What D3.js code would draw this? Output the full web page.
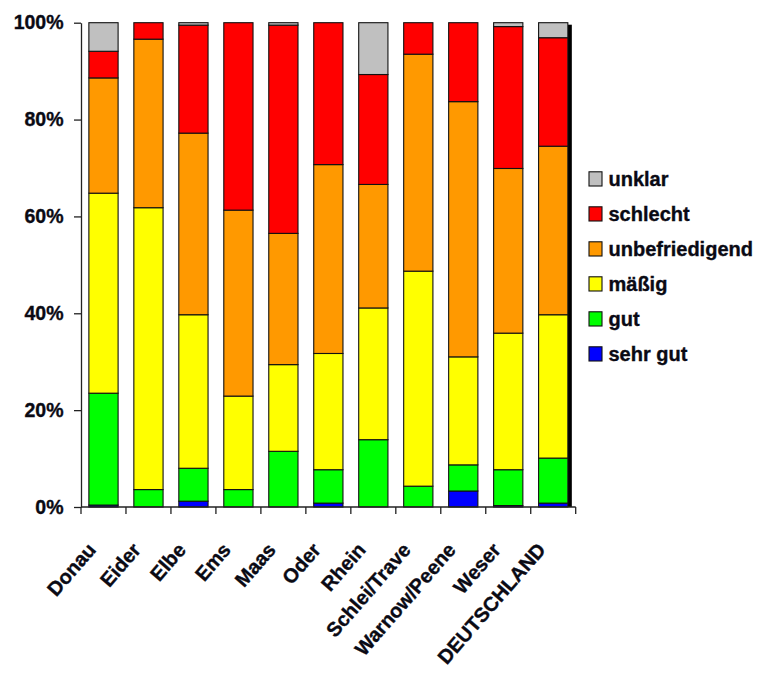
<!DOCTYPE html>
<html lang="de">
<head>
<meta charset="utf-8">
<script src="https://cdn.jsdelivr.net/npm/d3@7"></script>
<style>
  html, body { margin: 0; padding: 0; background: #fff; }
  svg { display: block; }
  text { font-family: "Liberation Sans", Arial, sans-serif; font-weight: bold;
         fill: #0a0a14; stroke: #0a0a14; stroke-width: 0.35px; }
</style>
</head>
<body>
<svg id="chart" width="760" height="681"></svg>
<script>
// Flussgebietseinheiten und Anteile der Bewertungsklassen (in %)
const categories = ["Donau", "Eider", "Elbe", "Ems", "Maas", "Oder", "Rhein",
  "Schlei/Trave", "Warnow/Peene", "Weser", "DEUTSCHLAND"];

const sehrGut        = [0.4, 0.0, 1.2, 0.0, 0.0, 0.8, 0.0, 0.0, 3.3, 0.3, 0.8];
const gut            = [23.1, 3.6, 6.8, 3.6, 11.5, 6.9, 13.9, 4.3, 5.4, 7.4, 9.3];
const maessig        = [41.3, 58.2, 31.7, 19.3, 17.9, 24.0, 27.2, 44.4, 22.3, 28.2, 29.6];
const unbefriedigend = [23.8, 34.8, 37.5, 38.4, 27.1, 39.0, 25.5, 44.8, 52.7, 34.0, 34.8];
const schlecht       = [5.5, 3.4, 22.3, 38.7, 43.0, 29.3, 22.7, 6.5, 16.3, 29.3, 22.4];
const unklar         = [5.9, 0.0, 0.5, 0.0, 0.5, 0.0, 10.7, 0.0, 0.0, 0.8, 3.1];

const seriesNames = ["sehr gut", "gut", "mäßig", "unbefriedigend", "schlecht", "unklar"];
const seriesValues = [sehrGut, gut, maessig, unbefriedigend, schlecht, unklar];
const seriesColors = ["#0000ff", "#00ff00", "#ffff00", "#ff9900", "#ff0000", "#c0c0c0"];

const yTicks = [0, 20, 40, 60, 80, 100];

// Tabelle für d3.stack
const rows = categories.map((c, i) => {
  const r = { name: c };
  seriesNames.forEach((s, k) => { r[s] = seriesValues[k][i]; });
  return r;
});

const svg = d3.select("#chart");
const plot = { left: 81, right: 575.7, top: 22.7, bottom: 507 };

const x = d3.scaleBand()
  .domain(categories)
  .range([plot.left, plot.right])
  .paddingInner(0.35)
  .paddingOuter(0.175);

const y = d3.scaleLinear().domain([0, 100]).range([plot.bottom, plot.top]);

const stacked = d3.stack().keys(seriesNames)(rows);

// Schatten hinter dem letzten Balken
const last = categories[categories.length - 1];
svg.append("rect")
  .attr("x", x(last) + x.bandwidth())
  .attr("y", y(100) + 2)
  .attr("width", 4)
  .attr("height", y(0) - y(100) - 2)
  .attr("fill", "#000");

// Gestapelte Balken
svg.append("g")
  .selectAll("g")
  .data(stacked)
  .join("g")
  .attr("fill", (d, k) => seriesColors[k])
  .selectAll("rect")
  .data(d => d.filter(p => p[1] - p[0] > 0))
  .join("rect")
  .attr("x", p => x(p.data.name))
  .attr("y", p => y(p[1]))
  .attr("width", x.bandwidth())
  .attr("height", p => y(p[0]) - y(p[1]))
  .attr("stroke", "#111")
  .attr("stroke-width", 1.1);

// y-Achse
const yAxis = svg.append("g")
  .attr("transform", `translate(${plot.left},0)`)
  .call(d3.axisLeft(y).tickValues(yTicks).tickFormat(d => d + "%")
    .tickSize(7).tickSizeOuter(0).tickPadding(10.5));
yAxis.selectAll("text")
  .style("font-size", "19.5px")
  .attr("fill", "#0a0a14").attr("stroke", "#0a0a14").attr("stroke-width", 0.35);
yAxis.selectAll("line, path").attr("stroke", "#222").attr("stroke-width", 1.3);

// x-Achse mit Teilstrichen an den Kategoriegrenzen
svg.append("line")
  .attr("x1", plot.left).attr("x2", plot.right)
  .attr("y1", plot.bottom).attr("y2", plot.bottom)
  .attr("stroke", "#222").attr("stroke-width", 1.3);

const bounds = d3.range(categories.length + 1).map(i => plot.left + i * x.step());
svg.append("g").selectAll("line")
  .data(bounds)
  .join("line")
  .attr("x1", d => d).attr("x2", d => d)
  .attr("y1", plot.bottom).attr("y2", plot.bottom + 7)
  .attr("stroke", "#222").attr("stroke-width", 1.3);

// Kategorienbeschriftung, schräg gestellt
svg.append("g").selectAll("text")
  .data(categories)
  .join("text")
  .attr("transform", d => `translate(${x(d) + x.bandwidth() / 2 - 6.5},${plot.bottom + 43.5}) rotate(-49)`)
  .attr("text-anchor", "end")
  .style("font-size", "20px")
  .text(d => d);

// Legende (oben die letzte Reihe)
const legendOrder = seriesNames.map((s, k) => k).reverse();
const legend = svg.append("g").selectAll("g")
  .data(legendOrder)
  .join("g")
  .attr("transform", (k, i) => `translate(589,${171.8 + i * 35})`);

legend.append("rect")
  .attr("width", 13).attr("height", 14.2)
  .attr("fill", k => seriesColors[k])
  .attr("stroke", "#111").attr("stroke-width", 1.1);

legend.append("text")
  .attr("x", 19.5)
  .attr("y", 14)
  .style("font-size", "20px")
  .text(k => seriesNames[k]);
</script>
</body>
</html>
